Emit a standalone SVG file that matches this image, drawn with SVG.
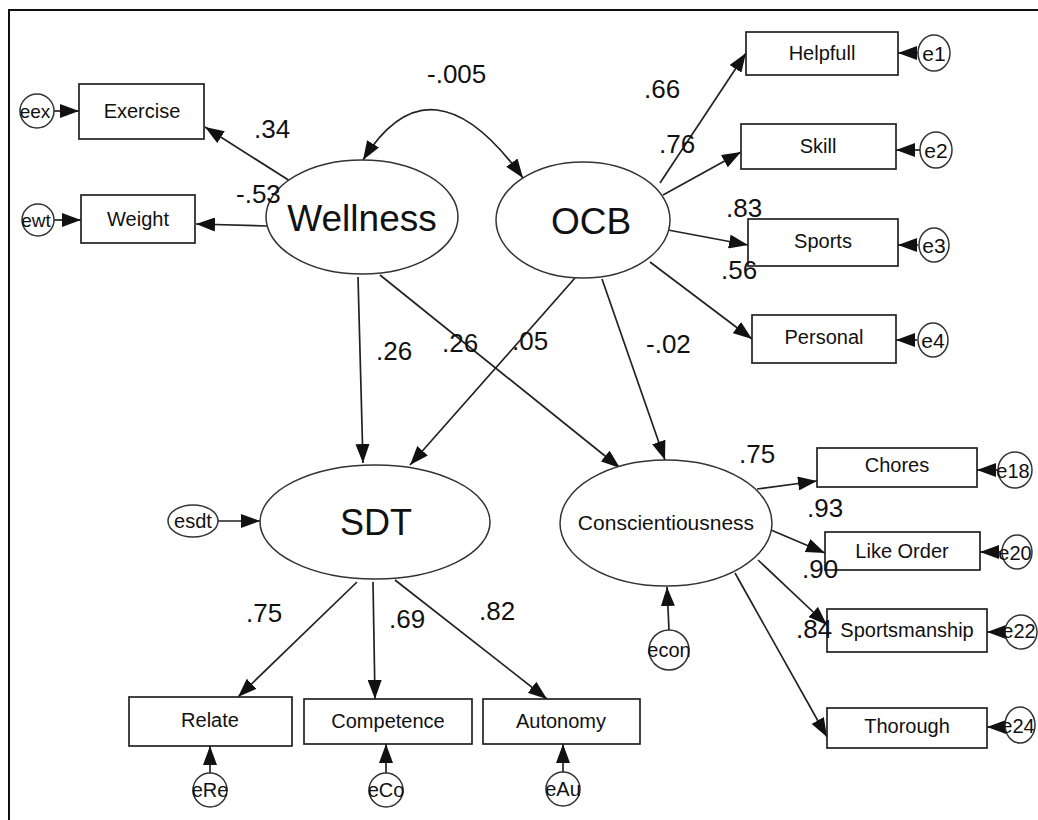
<svg xmlns="http://www.w3.org/2000/svg" width="1038" height="820" viewBox="0 0 1038 820">
<style>
.box{fill:#fff;stroke:#222;stroke-width:1.7}
.lat{fill:#fff;stroke:#333;stroke-width:1.5}
.err{fill:#fff;stroke:#333;stroke-width:1.5}
.t{font-family:"Liberation Sans",Arial,sans-serif;fill:#111;text-anchor:middle}
.n{font-family:"Liberation Sans",Arial,sans-serif;fill:#111;font-size:26px}
.c line,.c path{stroke:#222;stroke-width:1.7;fill:none;marker-end:url(#ah)}
</style>
<defs>
<marker id="ah" markerWidth="19" markerHeight="14" refX="19" refY="7" orient="auto" markerUnits="userSpaceOnUse"><path d="M0,0 L19,7 L0,14 z" fill="#111"/></marker>
<marker id="as" markerWidth="19" markerHeight="14" refX="19" refY="7" orient="auto-start-reverse" markerUnits="userSpaceOnUse"><path d="M0,0 L19,7 L0,14 z" fill="#111"/></marker>
</defs>
<rect width="1038" height="820" fill="#fff"/>
<path d="M9,820 V10 H1038" fill="none" stroke="#111" stroke-width="2"/>

<g class="c" id="connectors">
<path d="M363,160 Q431,51 523,178" marker-start="url(#as)"/>
<line x1="290" y1="181" x2="205" y2="127"/>
<line x1="267" y1="226" x2="196" y2="224"/>
<line x1="660" y1="183" x2="746" y2="53"/>
<line x1="663" y1="195" x2="741" y2="152"/>
<line x1="668" y1="230" x2="748" y2="245"/>
<line x1="650" y1="262" x2="752" y2="339"/>
<line x1="358" y1="277" x2="363" y2="463"/>
<line x1="380" y1="275" x2="620" y2="468"/>
<line x1="575" y1="278" x2="410" y2="465"/>
<line x1="602" y1="279" x2="665" y2="460"/>
<line x1="757" y1="489" x2="817" y2="481"/>
<line x1="771" y1="530" x2="825" y2="553"/>
<line x1="758" y1="560" x2="827" y2="625"/>
<line x1="735" y1="573" x2="827" y2="737"/>
<line x1="357" y1="582" x2="238" y2="697"/>
<line x1="373" y1="582" x2="375" y2="699"/>
<line x1="395" y1="580" x2="547" y2="699"/>
<line x1="54" y1="111" x2="79" y2="111"/>
<line x1="54" y1="220" x2="81" y2="220"/>
<line x1="918" y1="53" x2="898" y2="53"/>
<line x1="920" y1="150" x2="896" y2="150"/>
<line x1="918" y1="245" x2="898" y2="245"/>
<line x1="917" y1="340" x2="896" y2="340"/>
<line x1="998" y1="470" x2="977" y2="470"/>
<line x1="1000" y1="552" x2="980" y2="552"/>
<line x1="1004" y1="632" x2="987" y2="632"/>
<line x1="1004" y1="727" x2="987" y2="727"/>
<line x1="210" y1="773" x2="210" y2="746"/>
<line x1="386" y1="773" x2="386" y2="744"/>
<line x1="563" y1="772" x2="563" y2="744"/>
<line x1="669" y1="630" x2="667" y2="587"/>
<line x1="218" y1="521" x2="260" y2="521"/>
</g>

<g id="Wellness"><ellipse class="lat" cx="362" cy="217" rx="96" ry="57"/><text class="t" x="362" y="231" font-size="37">Wellness</text></g>
<g id="OCB"><ellipse class="lat" cx="583" cy="220" rx="87" ry="58"/><text class="t" x="591" y="234" font-size="37">OCB</text></g>
<g id="SDT"><ellipse class="lat" cx="375" cy="522" rx="115" ry="57"/><text class="t" x="376" y="535" font-size="36">SDT</text></g>
<g id="Conscientiousness"><ellipse class="lat" cx="666" cy="523" rx="106" ry="63"/><text class="t" x="666" y="530" font-size="21">Conscientiousness</text></g>

<g id="Exercise"><rect class="box" x="79" y="84" width="125" height="55"/><text class="t" x="142" y="118" font-size="20">Exercise</text></g>
<g id="Weight"><rect class="box" x="81" y="195" width="114" height="48"/><text class="t" x="138" y="226" font-size="20">Weight</text></g>
<g id="Helpfull"><rect class="box" x="746" y="32" width="152" height="43"/><text class="t" x="822" y="60" font-size="20">Helpfull</text></g>
<g id="Skill"><rect class="box" x="741" y="124" width="155" height="45"/><text class="t" x="818" y="153" font-size="20">Skill</text></g>
<g id="Sports"><rect class="box" x="748" y="219" width="150" height="47"/><text class="t" x="823" y="248" font-size="20">Sports</text></g>
<g id="Personal"><rect class="box" x="752" y="315" width="144" height="48"/><text class="t" x="824" y="344" font-size="20">Personal</text></g>
<g id="Chores"><rect class="box" x="817" y="448" width="160" height="39"/><text class="t" x="897" y="472" font-size="20">Chores</text></g>
<g id="LikeOrder"><rect class="box" x="825" y="532" width="155" height="38"/><text class="t" x="902" y="558" font-size="20">Like Order</text></g>
<g id="Sportsmanship"><rect class="box" x="827" y="609" width="160" height="43"/><text class="t" x="907" y="637" font-size="20">Sportsmanship</text></g>
<g id="Thorough"><rect class="box" x="827" y="708" width="160" height="40"/><text class="t" x="907" y="733" font-size="20">Thorough</text></g>
<g id="Relate"><rect class="box" x="129" y="697" width="163" height="49"/><text class="t" x="210" y="727" font-size="20">Relate</text></g>
<g id="Competence"><rect class="box" x="304" y="699" width="168" height="45"/><text class="t" x="388" y="728" font-size="20">Competence</text></g>
<g id="Autonomy"><rect class="box" x="483" y="699" width="157" height="45"/><text class="t" x="561" y="728" font-size="20">Autonomy</text></g>

<g id="eex"><circle class="err" cx="37" cy="111" r="17"/><text class="t" x="35" y="118" font-size="19">eex</text></g>
<g id="ewt"><circle class="err" cx="38" cy="220" r="16"/><text class="t" x="36" y="227" font-size="19">ewt</text></g>
<g id="e1"><ellipse class="err" cx="934" cy="53" rx="16" ry="18"/><text class="t" x="934" y="61" font-size="21">e1</text></g>
<g id="e2"><ellipse class="err" cx="936" cy="150" rx="16" ry="18"/><text class="t" x="936" y="158" font-size="21">e2</text></g>
<g id="e3"><ellipse class="err" cx="934" cy="245" rx="15" ry="17"/><text class="t" x="934" y="253" font-size="21">e3</text></g>
<g id="e4"><ellipse class="err" cx="933" cy="340" rx="15" ry="17"/><text class="t" x="933" y="348" font-size="21">e4</text></g>
<g id="e18"><ellipse class="err" cx="1015" cy="470" rx="17" ry="18"/><text class="t" x="1013" y="478" font-size="20">e18</text></g>
<g id="e20"><ellipse class="err" cx="1017" cy="552" rx="15" ry="17"/><text class="t" x="1015" y="560" font-size="20">e20</text></g>
<g id="e22"><ellipse class="err" cx="1021" cy="632" rx="16" ry="17"/><text class="t" x="1019" y="638" font-size="20">e22</text></g>
<g id="e24"><ellipse class="err" cx="1020" cy="725" rx="15" ry="18"/><text class="t" x="1018" y="733" font-size="20">e24</text></g>
<g id="eRe"><circle class="err" cx="210" cy="790" r="17"/><text class="t" x="210" y="797" font-size="20">eRe</text></g>
<g id="eCo"><circle class="err" cx="386" cy="790" r="17"/><text class="t" x="386" y="797" font-size="20">eCo</text></g>
<g id="eAu"><circle class="err" cx="563" cy="789" r="17"/><text class="t" x="563" y="796" font-size="20">eAu</text></g>
<g id="econ"><ellipse class="err" cx="669" cy="650" rx="20" ry="20"/><text class="t" x="669" y="657" font-size="20">econ</text></g>
<g id="esdt"><ellipse class="err" cx="193" cy="521" rx="25" ry="16"/><text class="t" x="193" y="528" font-size="20">esdt</text></g>

<g id="labels">
<text class="n" x="427" y="83" font-size="24">-.005</text>
<text class="n" x="254" y="138">.34</text>
<text class="n" x="236" y="203">-.53</text>
<text class="n" x="644" y="98">.66</text>
<text class="n" x="659" y="153">.76</text>
<text class="n" x="726" y="217">.83</text>
<text class="n" x="721" y="279">.56</text>
<text class="n" x="376" y="360">.26</text>
<text class="n" x="442" y="352">.26</text>
<text class="n" x="512" y="350">.05</text>
<text class="n" x="646" y="353">-.02</text>
<text class="n" x="739" y="463">.75</text>
<text class="n" x="807" y="517">.93</text>
<text class="n" x="802" y="578">.90</text>
<text class="n" x="796" y="638">.84</text>
<text class="n" x="246" y="622">.75</text>
<text class="n" x="389" y="628">.69</text>
<text class="n" x="479" y="620">.82</text>
</g>
</svg>
